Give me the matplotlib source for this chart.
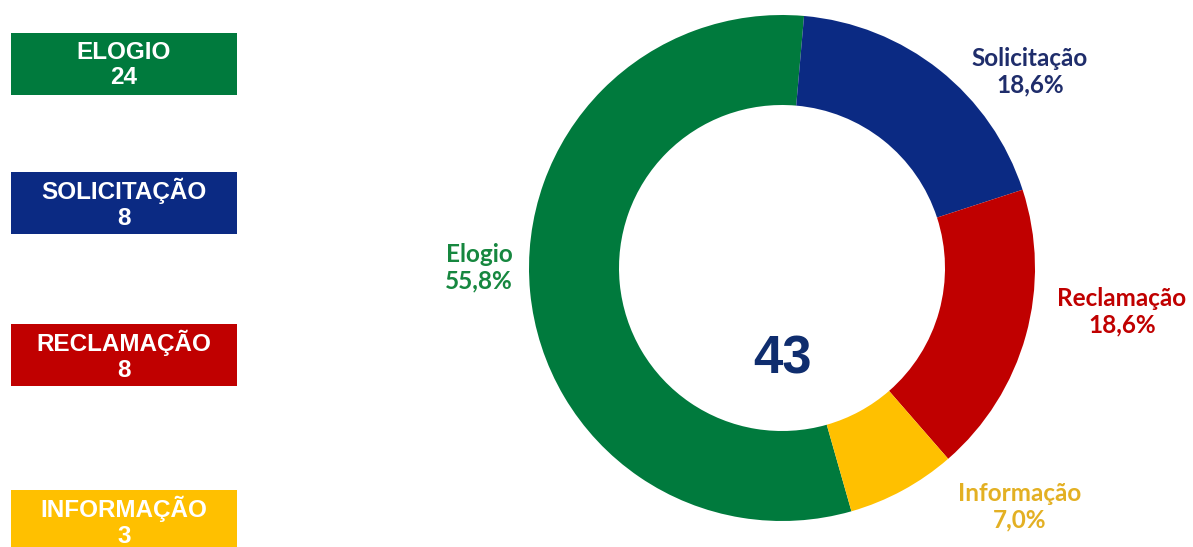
import matplotlib.pyplot as plt
from matplotlib.patches import Rectangle

categorias = ["Elogio", "Solicitação", "Reclamação", "Informação"]
rotulos_caixa = ["ELOGIO", "SOLICITAÇÃO", "RECLAMAÇÃO", "INFORMAÇÃO"]
quantidades = [24, 8, 8, 3]
cores = ["#007a3d", "#0b2a83", "#c00000", "#ffc000"]
cores_texto = ["#16873f", "#1f2d6b", "#c00000", "#e3b023"]

W, H = 1193, 547
total = sum(quantidades)

fig = plt.figure(figsize=(W / 100, H / 100), dpi=100)
ax = fig.add_axes([0, 0, 1, 1])

# rosca (y em pixels, de baixo para cima)
centro = (782, H - 268)
ax.pie(
    quantidades,
    colors=cores,
    startangle=85 + 360 * quantidades[0] / total,
    counterclock=False,
    center=centro,
    radius=253,
    wedgeprops=dict(width=253 - 163, linewidth=0),
)

ax.text(centro[0], H - 360, str(total), ha="center", va="center",
        fontsize=38, fontweight="bold", color="#0f2d6e", family="Liberation Sans")

# rotulos de porcentagem ao redor da rosca
posicoes = [(479, 268), (1030, 72), (1122, 312), (1020, 507)]
for nome, qtd, cor, (x, y) in zip(categorias, quantidades, cores_texto, posicoes):
    pct = f"{100 * qtd / total:.1f}%".replace(".", ",")
    ax.text(x, H - y, f"{nome}\n{pct}", ha="center", va="center", fontsize=17.5,
            fontweight="bold", color=cor, family="Lato", linespacing=1.2)

# caixas da esquerda
topos = [33, 172, 324, 490]
for rotulo, qtd, cor, topo in zip(rotulos_caixa, quantidades, cores, topos):
    ax.add_patch(Rectangle((11, H - topo - 62), 226, 62, color=cor, linewidth=0))
    ax.text(124, H - topo - 32, f"{rotulo}\n{qtd}", ha="center", va="center",
            fontsize=17.5, fontweight="bold", color="white", family="Liberation Sans",
            linespacing=1.15)

ax.set_xlim(0, W)
ax.set_ylim(0, H)
ax.set_aspect("equal")
ax.axis("off")

fig.savefig("out.png", dpi=100)
